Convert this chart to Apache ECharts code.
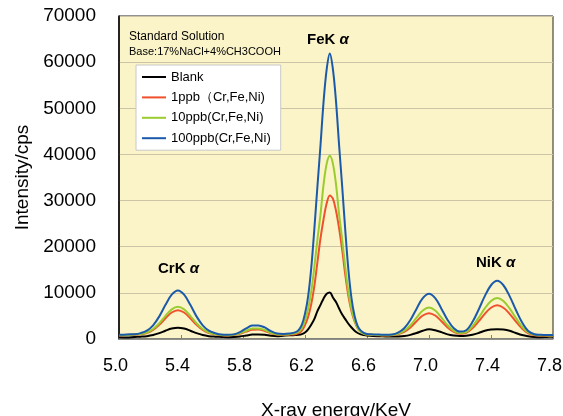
<!DOCTYPE html>
<html>
<head>
<meta charset="utf-8">
<script src="https://cdn.jsdelivr.net/npm/echarts@6/dist/echarts.min.js"></script>
<style>
html, body { margin: 0; padding: 0; background: #fff; }
#main { width: 563px; height: 416px; }
</style>
</head>
<body>
<div id="main"></div>
<script>
// X-ray energy (keV)
var energies = [
	5.00, 5.05, 5.10,
	5.14, 5.18, 5.22, 5.26, 5.30, 5.34, 5.38, 5.42, 5.46, 5.50, 5.54, 5.58, 5.62,
	5.66, 5.70, 5.74, 5.78, 5.82, 5.86, 5.90, 5.94, 5.98, 6.02, 6.06, 6.10,
	6.14, 6.16, 6.18, 6.20, 6.22, 6.24, 6.26, 6.28, 6.30, 6.32, 6.34, 6.36, 6.38, 6.40, 6.42, 6.44, 6.46, 6.48, 6.50, 6.52, 6.54, 6.56, 6.58, 6.60,
	6.64, 6.68, 6.72, 6.76,
	6.80, 6.84, 6.88, 6.92, 6.96, 7.00, 7.04, 7.08, 7.12, 7.16, 7.20, 7.24, 7.28, 7.32, 7.36, 7.40, 7.44, 7.48, 7.52, 7.56, 7.60, 7.64, 7.68,
	7.72, 7.76, 7.80
];

// intensity (cps), same order as energies
var blank = [
	400, 350, 450,
	510, 620, 860, 1270, 1800, 2260, 2450, 2260, 1800, 1270, 860, 620, 510,
	450, 400, 450, 550, 750, 950, 1000, 900, 700, 600, 700, 800,
	850, 900, 1050, 1400, 2100, 3100, 4300, 6050, 7400, 8800, 9800, 10100, 9000, 8000, 6600, 5300, 4300, 3300, 2500, 1800, 1300, 1000, 850, 750,
	650, 600, 550, 520,
	550, 650, 900, 1300, 1800, 2100, 1900, 1500, 1000, 750, 650, 700, 900, 1300, 1800, 2050, 2100, 2050, 1800, 1300, 850, 600, 450,
	400, 450, 500
];
var ppb1 = [
	750, 850, 900,
	1010, 1310, 1960, 3070, 4490, 5740, 6250, 5740, 4490, 3070, 1960, 1310, 1010,
	800, 750, 850, 1150, 1600, 2000, 2050, 1750, 1250, 950, 900, 950,
	1050, 1250, 1800, 3000, 4800, 7500, 11400, 16600, 21800, 26000, 29400, 31100, 30400, 27800, 24000, 19300, 13900, 9300, 6000, 3800, 2300, 1500, 1100, 950,
	850, 800, 750, 800,
	1010, 1530, 2510, 3850, 5090, 5600, 5090, 3850, 2510, 1530, 1140, 1320, 2300, 3800, 5450, 6770, 7300, 6770, 5450, 3800, 2280, 1230, 830,
	750, 720, 720
];
var ppb10 = [
	800, 850, 950,
	1080, 1420, 2160, 3400, 5000, 6430, 7000, 6430, 5000, 3400, 2160, 1420, 1080,
	850, 800, 900, 1250, 1800, 2250, 2300, 1950, 1350, 1050, 1000, 1050,
	1300, 1600, 2400, 4000, 6500, 10200, 15500, 21500, 27000, 33500, 38000, 39700, 38000, 33500, 27000, 21500, 15500, 10200, 6500, 4000, 2300, 1500, 1100, 950,
	900, 850, 800, 850,
	1130, 1780, 2980, 4630, 6160, 6800, 6160, 4630, 2980, 1780, 1290, 1510, 2730, 4580, 6620, 8250, 8900, 8250, 6620, 4580, 2710, 1400, 900,
	800, 780, 780
];
var ppb100 = [
	900, 1000, 1050,
	1280, 1800, 2960, 4900, 7400, 9600, 10500, 9600, 7400, 4900, 2960, 1800, 1280,
	950, 900, 1000, 1500, 2300, 2900, 2950, 2500, 1700, 1200, 1100, 1200,
	1500, 2000, 3100, 5500, 9200, 15300, 23700, 33000, 42000, 51500, 58500, 61900, 58500, 51500, 42000, 33000, 23500, 15000, 8800, 5000, 2800, 1800, 1300, 1100,
	1000, 950, 900, 960,
	1370, 2330, 4120, 6580, 8860, 9800, 8860, 6580, 4120, 2330, 1600, 1900, 3670, 6350, 9300, 11650, 12600, 11650, 9300, 6350, 3630, 1740, 1040,
	900, 850, 850
];

var seriesNames = ['Blank', '1ppb（Cr,Fe,Ni)', '10ppb(Cr,Fe,Ni)', '100ppb(Cr,Fe,Ni)'];
var seriesColors = ['#000000', '#F0502C', '#9ACC30', '#1B5AAA'];
var seriesValues = [blank, ppb1, ppb10, ppb100];

function toPoints(values) {
	var pts = [];
	for (var i = 0; i < energies.length; i++) {
		pts.push([energies[i], values[i]]);
	}
	return pts;
}

var series = [];
for (var s = 0; s < seriesNames.length; s++) {
	series.push({
		name: seriesNames[s],
		type: 'line',
		data: toPoints(seriesValues[s]),
		smooth: 0.35,
		symbol: 'none',
		color: seriesColors[s],
		lineStyle: { width: 2, color: seriesColors[s] }
	});
}

var font = "'Liberation Sans', Arial, sans-serif";
var peakRich = {
	b: { fontSize: 15, fontWeight: 'bold', fill: '#000' },
	a: { fontSize: 15, fontWeight: 'bold', fontStyle: 'italic', fill: '#000' }
};

var option = {
	animation: false,
	backgroundColor: '#ffffff',
	grid: {
		left: 119, right: 10, top: 16, bottom: 77,
		outerBoundsMode: 'none', // keep the plot box fixed, the axis title may run off the bottom
		show: true,
		backgroundColor: '#FBF4C8',
		borderColor: '#222222',
		borderWidth: 1
	},
	legend: {
		orient: 'vertical',
		left: 136, top: 65,
		padding: [2, 10, 2, 6],
		itemGap: 0.4,
		itemWidth: 24,
		itemHeight: 2,
		icon: 'rect',
		backgroundColor: '#ffffff',
		borderColor: '#C8C8C8',
		borderWidth: 1,
		textStyle: { fontFamily: font, fontSize: 13, color: '#000', lineHeight: 20 },
		data: seriesNames
	},
	xAxis: {
		type: 'value',
		min: 5.0, max: 7.8, interval: 0.4,
		name: 'X-ray energy/KeV',
		nameLocation: 'middle',
		nameGap: 62,
		nameTextStyle: { fontFamily: font, fontSize: 19, color: '#000' },
		axisLine: { lineStyle: { color: '#808080', width: 1.5 } },
		axisTick: { show: true, inside: true, length: 4, lineStyle: { color: '#808080' } },
		splitLine: { show: false },
		axisLabel: {
			fontFamily: font, fontSize: 18, color: '#000', margin: 18,
			padding: [0, 7, 0, 0], // labels sit a little left of their ticks
			formatter: function(v) { return v.toFixed(1); }
		}
	},
	yAxis: {
		type: 'value',
		min: 0, max: 70000, interval: 10000,
		name: 'Intensity/cps',
		nameLocation: 'middle',
		nameGap: 84,
		nameTextStyle: { fontFamily: font, fontSize: 19, color: '#000' },
		axisLine: { show: true, lineStyle: { color: '#000', width: 1.5 } },
		axisTick: { show: false },
		splitLine: { lineStyle: { color: '#CBC4A6', width: 1 } },
		axisLabel: {
			fontFamily: font, fontSize: 19, color: '#000', margin: 23,
			formatter: function(v) { return String(v); }
		}
	},
	graphic: [
		{ type: 'text', left: 129, top: 31, style: { text: 'Standard Solution', fontFamily: font, fontSize: 12, fill: '#000' } },
		{ type: 'text', left: 129, top: 46, style: { text: 'Base:17%NaCl+4%CH3COOH', fontFamily: font, fontSize: 11, fill: '#000' } },
		{ type: 'text', left: 307, top: 32, style: { text: '{b|FeK }{a|α}', fontFamily: font, rich: peakRich } },
		{ type: 'text', left: 158, top: 261, style: { text: '{b|CrK }{a|α}', fontFamily: font, rich: peakRich } },
		{ type: 'text', left: 476, top: 255, style: { text: '{b|NiK }{a|α}', fontFamily: font, rich: peakRich } }
	],
	series: series
};

var myChart = echarts.init(document.getElementById('main'));
myChart.setOption(option);
</script>
</body>
</html>
